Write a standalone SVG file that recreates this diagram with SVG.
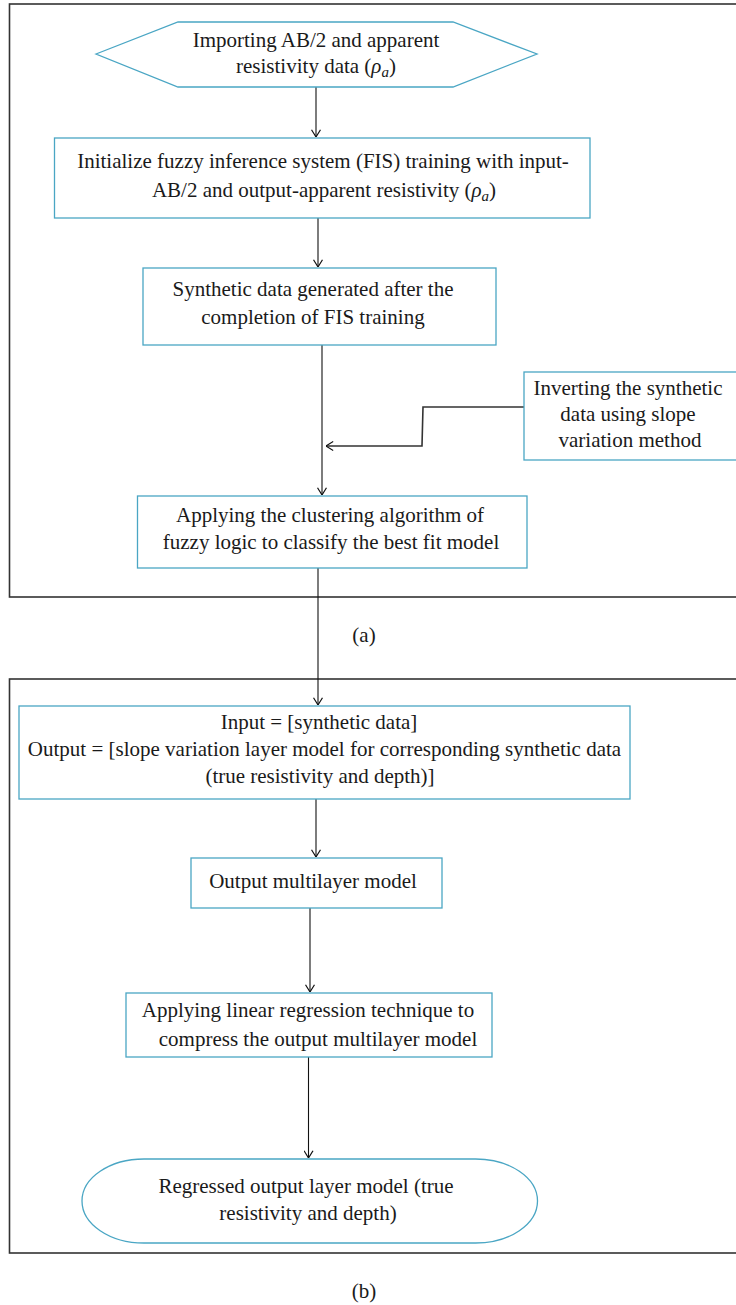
<svg xmlns="http://www.w3.org/2000/svg" width="736" height="1305" viewBox="0 0 736 1305">
<style>
.frame{fill:none;stroke:#333;stroke-width:1.6}
.node{fill:#fff;stroke:#4aa6c4;stroke-width:1.3}
.t{font-family:"Liberation Serif","Times New Roman",serif;font-size:21px;fill:#1a1a1a;text-anchor:middle}
.c{fill:none;stroke:#111;stroke-width:1.1}
.c2{fill:none;stroke:#333;stroke-width:1.6}
.i{font-style:italic}
</style>
<defs>
<marker id="ah" viewBox="0 0 10 10" refX="10" refY="5" markerWidth="8" markerHeight="10" markerUnits="userSpaceOnUse" orient="auto" preserveAspectRatio="none">
<path d="M1,0.5 L10,5 L1,9.5" fill="none" stroke="#111" stroke-width="1.2"/>
</marker>
</defs>
<rect class="frame" x="9.5" y="4" width="740" height="593"/>
<rect class="frame" x="9.5" y="679" width="740" height="574"/>
<text class="t" x="364" y="642">(a)</text>
<text class="t" x="364" y="1298">(b)</text>
<g id="connectors">
<line class="c" x1="316" y1="87" x2="316" y2="137" marker-end="url(#ah)"/>
<line class="c" x1="318" y1="218" x2="318" y2="267" marker-end="url(#ah)"/>
<line class="c" x1="322" y1="345" x2="322" y2="495" marker-end="url(#ah)"/>
<polyline class="c2" points="524,407 423,407 422,446 326,446" marker-end="url(#ah)"/>
<line class="c" x1="318" y1="568" x2="318" y2="705" marker-end="url(#ah)"/>
<line class="c" x1="316" y1="799" x2="316" y2="857" marker-end="url(#ah)"/>
<line class="c" x1="310" y1="908" x2="310" y2="992" marker-end="url(#ah)"/>
<line class="c" x1="308.5" y1="1057" x2="308.5" y2="1158" marker-end="url(#ah)"/>
</g>
<g id="n1">
<polygon class="node" points="96,54 178,22 453,22 537,54 453,87 178,87"/>
<text class="t" x="316" y="47">Importing AB/2 and apparent</text>
<text class="t" x="316" y="73">resistivity data (<tspan class="i">ρ</tspan><tspan class="i" font-size="15" dy="4">a</tspan><tspan dy="-4">)</tspan></text>
</g>
<g id="n2">
<rect class="node" x="54.5" y="138" width="535.5" height="80"/>
<text class="t" x="323" y="168">Initialize fuzzy inference system (FIS) training with input-</text>
<text class="t" x="324" y="197">AB/2 and output-apparent resistivity (<tspan class="i">ρ</tspan><tspan class="i" font-size="15" dy="4">a</tspan><tspan dy="-4">)</tspan></text>
</g>
<g id="n3">
<rect class="node" x="143" y="268" width="353" height="77"/>
<text class="t" x="313" y="296">Synthetic data generated after the</text>
<text class="t" x="313" y="324">completion of FIS training</text>
</g>
<g id="n4">
<rect class="node" x="524" y="372" width="230" height="88"/>
<text class="t" x="628" y="395">Inverting the synthetic</text>
<text class="t" x="628" y="421">data using slope</text>
<text class="t" x="630" y="447">variation method</text>
</g>
<g id="n5">
<rect class="node" x="137.5" y="496" width="389.5" height="72"/>
<text class="t" x="330" y="522">Applying the clustering algorithm of</text>
<text class="t" x="331" y="549">fuzzy logic to classify the best fit model</text>
</g>
<g id="n6">
<rect class="node" x="19" y="706" width="611" height="93"/>
<text class="t" x="319" y="729">Input = [synthetic data]</text>
<text class="t" x="324.5" y="756">Output = [slope variation layer model for corresponding synthetic data</text>
<text class="t" x="320" y="783">(true resistivity and depth)]</text>
</g>
<g id="n7">
<rect class="node" x="191" y="858" width="251" height="50"/>
<text class="t" x="313" y="888">Output multilayer model</text>
</g>
<g id="n8">
<rect class="node" x="126" y="993" width="366" height="64"/>
<text class="t" x="308" y="1017">Applying linear regression technique to</text>
<text class="t" x="318" y="1046">compress the output multilayer model</text>
</g>
<g id="n9">
<rect class="node" x="82" y="1159" width="455.5" height="84" rx="62" ry="42"/>
<text class="t" x="306" y="1193">Regressed output layer model (true</text>
<text class="t" x="308" y="1220">resistivity and depth)</text>
</g>
</svg>
